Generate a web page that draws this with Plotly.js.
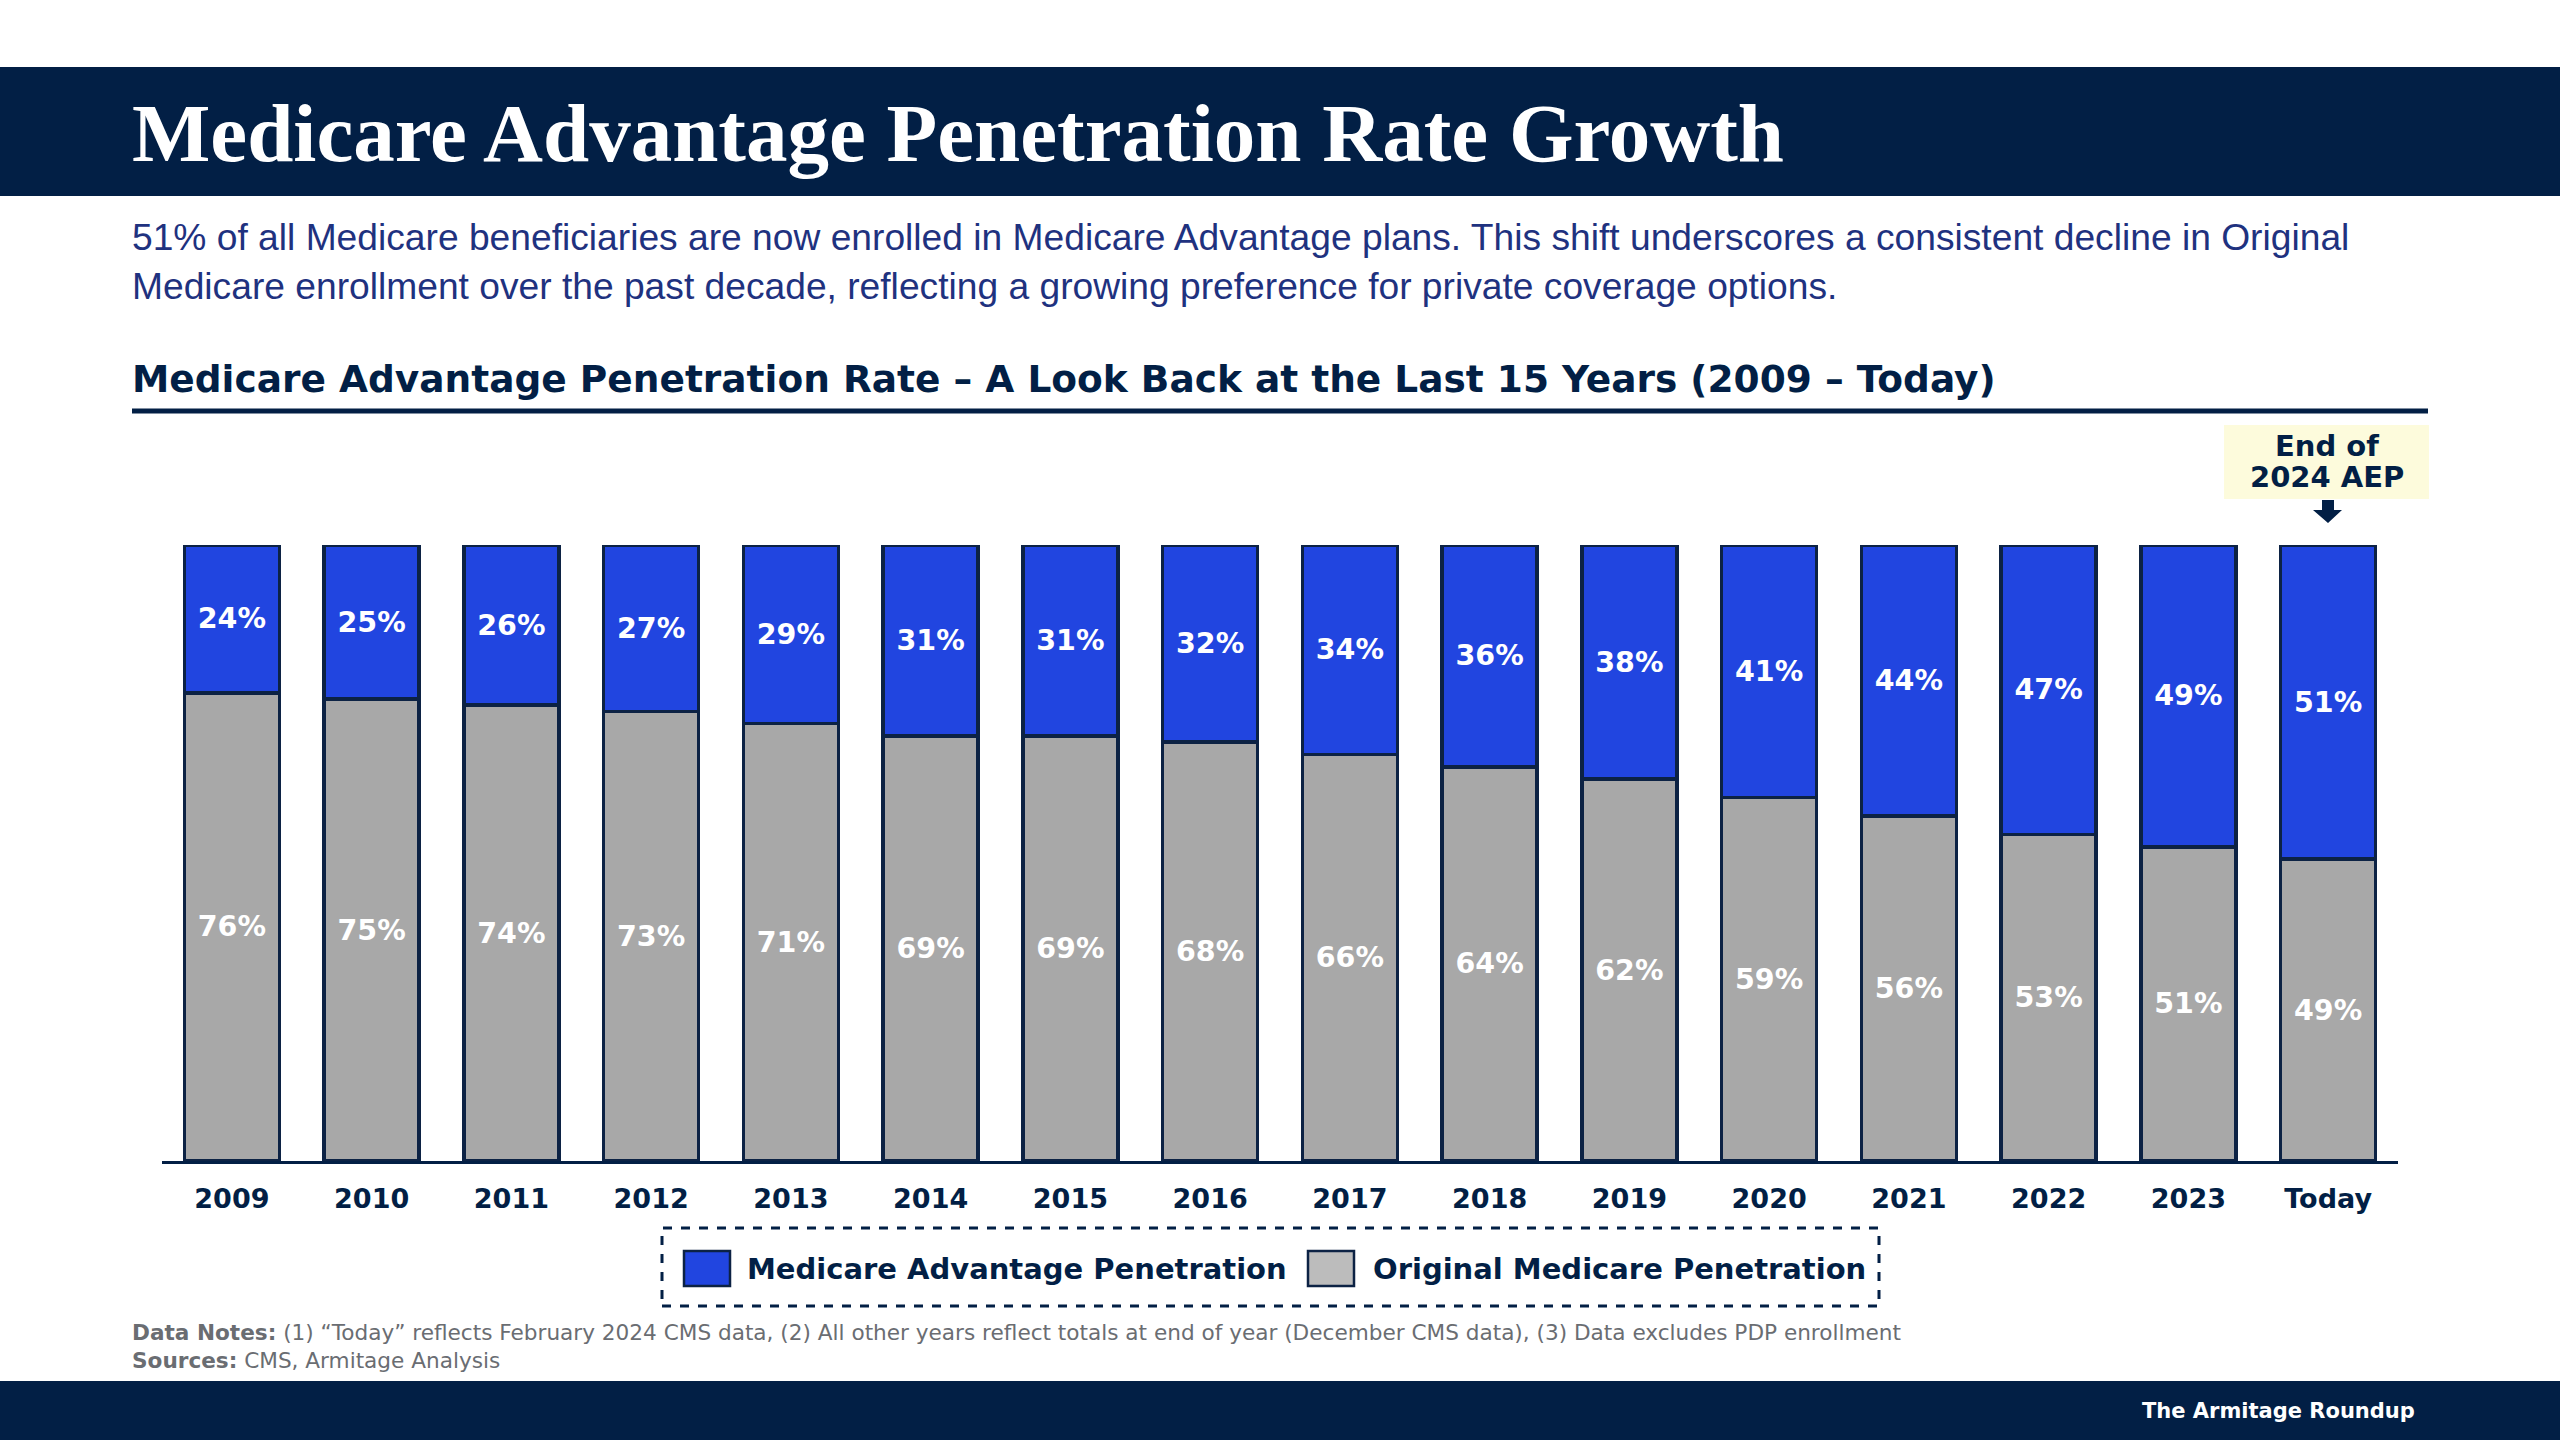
<!DOCTYPE html>
<html>
<head>
<meta charset="utf-8">
<script src="https://cdn.plot.ly/plotly-3.0.1.min.js"></script>
<style>
html,body{margin:0;padding:0;background:#ffffff;}
#chart{width:2560px;height:1440px;}
</style>
</head>
<body>
<div id="chart"></div>
<script>
// ---- Data ----
const categories = ["2009","2010","2011","2012","2013","2014","2015","2016","2017","2018","2019","2020","2021","2022","2023","Today"];
const maShare = [24,25,26,27,29,31,31,32,34,36,38,41,44,47,49,51];
const originalShare = [76,75,74,73,71,69,69,68,66,64,62,59,56,53,51,49];
const seriesNames = ["Medicare Advantage Penetration","Original Medicare Penetration"];

// ---- Styling constants ----
const W = 2560, H = 1440;
const fx = p => p / W;
const fy = p => 1 - p / H;
const NAVY = "#021f45";
const BLUE = "#2145e0";
const GRAY = "#a8a8a8";
const OUTLINE = "#0c2244";
const SANS = "DejaVu Sans, Verdana, sans-serif";

const barCommon = {
  type: "bar",
  x: categories,
  texttemplate: "%{y}%",
  textposition: "inside",
  insidetextanchor: "middle",
  textangle: 0,
  constraintext: "none",
  textfont: {family: SANS, size: 28.5, color: "#ffffff", weight: "bold"},
  hoverinfo: "skip",
  showlegend: false
};

const traces = [
  Object.assign({}, barCommon, {
    name: seriesNames[1],
    y: originalShare,
    marker: {color: GRAY, line: {color: OUTLINE, width: 3.5}}
  }),
  Object.assign({}, barCommon, {
    name: seriesNames[0],
    y: maShare,
    marker: {color: BLUE, line: {color: OUTLINE, width: 3.5}}
  })
];

const shapes = [
  {type: "rect", xref: "paper", yref: "paper", x0: 0, x1: 1, y0: fy(196), y1: fy(67), fillcolor: NAVY, line: {width: 0}, layer: "below"},
  {type: "rect", xref: "paper", yref: "paper", x0: 0, x1: 1, y0: 0, y1: fy(1381), fillcolor: NAVY, line: {width: 0}, layer: "below"},
  {type: "line", xref: "paper", yref: "paper", x0: fx(132), x1: fx(2428), y0: fy(411), y1: fy(411), line: {color: NAVY, width: 5}},
  {type: "rect", xref: "paper", yref: "paper", x0: fx(2224), x1: fx(2429), y0: fy(499), y1: fy(425), fillcolor: "#fdfbdc", line: {width: 0}, layer: "below"},
  {type: "path", xref: "paper", yref: "paper",
   path: "M" + fx(2322) + "," + fy(500) + " L" + fx(2334) + "," + fy(500) + " L" + fx(2334) + "," + fy(510) +
         " L" + fx(2342) + "," + fy(510) + " L" + fx(2328) + "," + fy(523) + " L" + fx(2313) + "," + fy(510) +
         " L" + fx(2322) + "," + fy(510) + " Z",
   fillcolor: NAVY, line: {width: 0}},
  {type: "rect", xref: "paper", yref: "paper", x0: fx(662), x1: fx(1879), y0: fy(1306), y1: fy(1228), fillcolor: "rgba(0,0,0,0)", line: {color: NAVY, width: 3, dash: "dash"}},
  {type: "rect", xref: "paper", yref: "paper", x0: fx(684), x1: fx(730), y0: fy(1286), y1: fy(1251), fillcolor: BLUE, line: {color: OUTLINE, width: 2.5}},
  {type: "rect", xref: "paper", yref: "paper", x0: fx(1308), x1: fx(1354), y0: fy(1286), y1: fy(1251), fillcolor: "#bcbcbc", line: {color: OUTLINE, width: 2.5}}
];

const annotations = [
  {xref: "paper", yref: "paper", x: fx(130), y: fy(133), xanchor: "left", yanchor: "middle", showarrow: false,
   text: "<b>Medicare Advantage Penetration Rate Growth</b>",
   font: {family: "Liberation Serif, Times New Roman, serif", size: 83, color: "#ffffff"}},
  {xref: "paper", yref: "paper", x: fx(130), y: fy(237), xanchor: "left", yanchor: "middle", showarrow: false,
   text: "51% of all Medicare beneficiaries are now enrolled in Medicare Advantage plans. This shift underscores a consistent decline in Original",
   font: {family: "Liberation Sans, Arial, sans-serif", size: 37.2, color: "#1f327f"}},
  {xref: "paper", yref: "paper", x: fx(130), y: fy(286), xanchor: "left", yanchor: "middle", showarrow: false,
   text: "Medicare enrollment over the past decade, reflecting a growing preference for private coverage options.",
   font: {family: "Liberation Sans, Arial, sans-serif", size: 37.2, color: "#1f327f"}},
  {xref: "paper", yref: "paper", x: fx(130), y: fy(379), xanchor: "left", yanchor: "middle", showarrow: false,
   text: "<b>Medicare Advantage Penetration Rate – A Look Back at the Last 15 Years (2009 – Today)</b>",
   font: {family: SANS, size: 37.5, color: NAVY}},
  {xref: "paper", yref: "paper", x: fx(2327), y: fy(446), xanchor: "center", yanchor: "middle", showarrow: false,
   text: "<b>End of</b>", font: {family: SANS, size: 29, color: NAVY}},
  {xref: "paper", yref: "paper", x: fx(2327), y: fy(477), xanchor: "center", yanchor: "middle", showarrow: false,
   text: "<b>2024 AEP</b>", font: {family: SANS, size: 29, color: NAVY}},
  {xref: "paper", yref: "paper", x: fx(745), y: fy(1269), xanchor: "left", yanchor: "middle", showarrow: false,
   text: "<b>" + seriesNames[0] + "</b>", font: {family: SANS, size: 29, color: NAVY}},
  {xref: "paper", yref: "paper", x: fx(1371), y: fy(1269), xanchor: "left", yanchor: "middle", showarrow: false,
   text: "<b>" + seriesNames[1] + "</b>", font: {family: SANS, size: 29, color: NAVY}},
  {xref: "paper", yref: "paper", x: fx(130), y: fy(1332), xanchor: "left", yanchor: "middle", showarrow: false,
   text: "<b>Data Notes:</b> (1) “Today” reflects February 2024 CMS data, (2) All other years reflect totals at end of year (December CMS data), (3) Data excludes PDP enrollment",
   font: {family: SANS, size: 21.6, color: "#6a6d72"}},
  {xref: "paper", yref: "paper", x: fx(130), y: fy(1360), xanchor: "left", yanchor: "middle", showarrow: false,
   text: "<b>Sources:</b> CMS, Armitage Analysis",
   font: {family: SANS, size: 21.6, color: "#6a6d72"}},
  {xref: "paper", yref: "paper", x: fx(2417), y: fy(1411), xanchor: "right", yanchor: "middle", showarrow: false,
   text: "<b>The Armitage Roundup</b>", font: {family: SANS, size: 21, color: "#ffffff"}}
];

const layout = {
  width: W, height: H,
  margin: {l: 0, r: 0, t: 0, b: 0, pad: 0},
  paper_bgcolor: "#ffffff",
  plot_bgcolor: "rgba(0,0,0,0)",
  barmode: "stack",
  bargap: 0.32,
  showlegend: false,
  xaxis: {
    domain: [fx(162), fx(2398)],
    type: "category",
    range: [-0.5, categories.length - 0.5],
    showline: true, linecolor: NAVY, linewidth: 3,
    ticks: "", showgrid: false, zeroline: false,
    tickfont: {family: SANS, size: 27, color: NAVY, weight: "bold"},
    ticklabelstandoff: 12,
    fixedrange: true
  },
  yaxis: {
    domain: [fy(1161), fy(545)],
    range: [0, 100],
    visible: false,
    showgrid: false, zeroline: false,
    fixedrange: true
  },
  shapes: shapes,
  annotations: annotations,
  font: {family: SANS}
};

Plotly.newPlot("chart", traces, layout, {displayModeBar: false, staticPlot: true});
</script>
</body>
</html>
